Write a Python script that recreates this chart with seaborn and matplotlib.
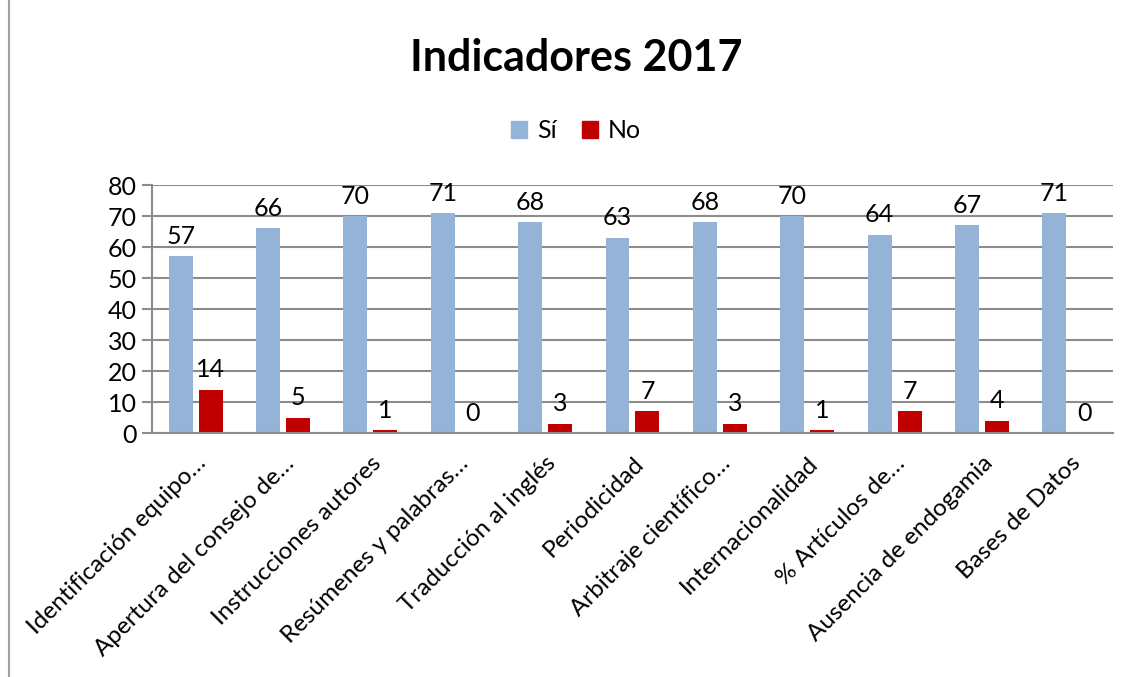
import matplotlib.pyplot as plt
import matplotlib.lines as mlines
import pandas as pd
import seaborn as sns

# datos
indicadores = [
    "Identificación equipo…",
    "Apertura del consejo de…",
    "Instrucciones autores",
    "Resúmenes y palabras…",
    "Traducción al inglés",
    "Periodicidad",
    "Arbitraje científico…",
    "Internacionalidad",
    "% Artículos de…",
    "Ausencia de endogamia",
    "Bases de Datos",
]
si = [57, 66, 70, 71, 68, 63, 68, 70, 64, 67, 71]
no = [14, 5, 1, 0, 3, 7, 3, 1, 7, 4, 0]
series = ["Sí", "No"]
colores = ["#95B3D7", "#C00000"]

df = pd.DataFrame({
    "indicador": indicadores * 2,
    "serie": [series[0]] * len(si) + [series[1]] * len(no),
    "valor": si + no,
})

sns.set_style("white")
plt.rcParams["font.family"] = ["Lato", "DejaVu Sans"]
plt.rcParams["text.color"] = "black"
plt.rcParams["xtick.color"] = "black"
plt.rcParams["ytick.color"] = "black"

fig = plt.figure(figsize=(11.34, 6.77), dpi=100)
ax = fig.add_axes([0.134, 0.3604, 0.8475, 0.3663])

sns.barplot(
    data=df, x="indicador", y="valor", hue="serie",
    palette=colores, width=0.686, gap=0.2, saturation=1,
    linewidth=0, edgecolor="none", legend=False, ax=ax,
)

for cont in ax.containers:
    ax.bar_label(cont, fmt="%d", fontsize=18, padding=6, color="black")

ax.set_ylim(0, 80)
ax.set_yticks(range(0, 81, 10))
ax.yaxis.grid(True, color="#8c8c8c", linewidth=1.5)
ax.set_axisbelow(True)
ax.set_xlabel("")
ax.set_ylabel("")
ax.tick_params(axis="y", labelsize=18, length=7, width=1.5, color="#8c8c8c",
               labelcolor="black", pad=4, left=True)
ax.tick_params(axis="x", labelsize=17.5, length=0, pad=14, labelcolor="black")
plt.setp(ax.get_xticklabels(), rotation=45, ha="right", rotation_mode="anchor")
for side in ["top", "right"]:
    ax.spines[side].set_visible(False)
for side in ["left", "bottom"]:
    ax.spines[side].set_color("#8c8c8c")
    ax.spines[side].set_linewidth(1.5)

handles = [plt.Rectangle((0, 0), 1, 1, color=c) for c in colores]
fig.legend(handles, series, loc="center", bbox_to_anchor=(0.508, 0.807), ncol=2,
           frameon=False, fontsize=18, handlelength=0.65, handleheight=0.65,
           handletextpad=0.4, columnspacing=1.0)

fig.text(0.508, 0.915, "Indicadores 2017", ha="center", va="center",
         fontsize=31, fontweight="bold", color="black")

# borde izquierdo del marco
fig.add_artist(mlines.Line2D([0.0075, 0.0075], [0.0, 1.0], color="#a0a0a0", linewidth=1.5))

fig.savefig("out.png", dpi=100)
plt.close(fig)
